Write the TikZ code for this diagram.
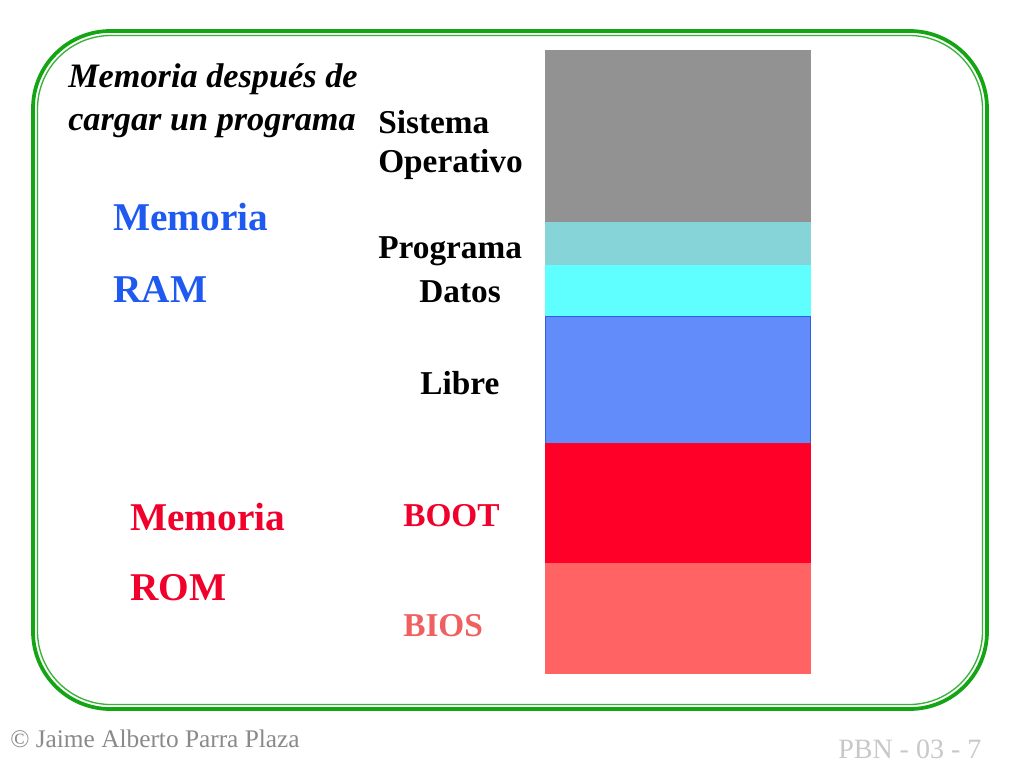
\documentclass[tikz,border=0pt]{standalone}
\usepackage{fontspec}
\setmainfont{Liberation Serif}
\definecolor{frame}{RGB}{20,165,20}
\definecolor{osgray}{RGB}{146,146,146}
\definecolor{prteal}{RGB}{134,211,216}
\definecolor{dtcyan}{RGB}{95,255,255}
\definecolor{lbblue}{RGB}{98,140,250}
\definecolor{lbedge}{RGB}{48,96,224}
\definecolor{btred}{RGB}{255,0,41}
\definecolor{bssalmon}{RGB}{255,99,99}
\definecolor{ramblue}{RGB}{30,90,240}
\definecolor{romred}{RGB}{240,0,42}
\definecolor{biostext}{RGB}{240,96,96}
\definecolor{foot}{RGB}{138,138,138}
\definecolor{footlight}{RGB}{200,200,200}
\tikzset{
  lbl/.style={anchor=base west, inner sep=0pt, font=\fontsize{25}{30}\selectfont\bfseries},
  itlbl/.style={anchor=base west, inner sep=0pt, font=\fontsize{25.7}{30}\selectfont\bfseries\itshape},
  biglbl/.style={anchor=base west, inner sep=0pt, font=\fontsize{29.5}{34}\selectfont\bfseries},
}
\begin{document}
\begin{tikzpicture}[x=0.75pt,y=-0.75pt]
\useasboundingbox[fill=white] (0,0) rectangle (1024,768);
% frame
\draw[frame, line width=2.8pt, rounded corners=58pt] (33,31) rectangle (987,709);
\draw[frame!85!white, line width=1pt, rounded corners=55pt] (37.5,35.5) rectangle (982.5,704.5);
% memory stack
\fill[osgray] (545,50) rectangle (811,222);
\fill[prteal] (545,222) rectangle (811,265);
\fill[dtcyan] (545,265) rectangle (811,316);
\filldraw[fill=lbblue, draw=lbedge, line width=0.5pt] (545.3,316) rectangle (810.7,443);
\fill[btred] (545,443) rectangle (811,563);
\fill[bssalmon] (545,563) rectangle (811,674);
% texts
\node[itlbl] (t1) at (68,87) {Memoria después de};
\node[itlbl] (t2) at (68,130) {cargar un programa};
\node[lbl] (so1) at (378,133) {Sistema};
\node[lbl] (so2) at (378,172) {Operativo};
\node[biglbl, text=ramblue] (ram1) at (113,230) {Memoria};
\node[biglbl, text=ramblue] (ram2) at (113,302) {RAM};
\node[lbl] (prog) at (378,258) {Programa};
\node[lbl] (dat) at (419,302) {Datos};
\node[lbl] (lib) at (420,394) {Libre};
\node[biglbl, text=romred] (rom1) at (130,530) {Memoria};
\node[biglbl, text=romred] (rom2) at (130,600) {ROM};
\node[lbl, text=romred] (boot) at (403,526) {BOOT};
\node[lbl, text=biostext] (bios) at (403,636) {BIOS};
% footer
\node[anchor=base west, inner sep=0pt, text=foot, font=\fontsize{19}{23}\selectfont] (cp) at (10,747) {© Jaime Alberto Parra Plaza};
\node[anchor=base west, inner sep=0pt, text=footlight, font=\fontsize{21}{25}\selectfont] (pg) at (838,758) {PBN - 03 - 7};
\end{tikzpicture}
\end{document}
